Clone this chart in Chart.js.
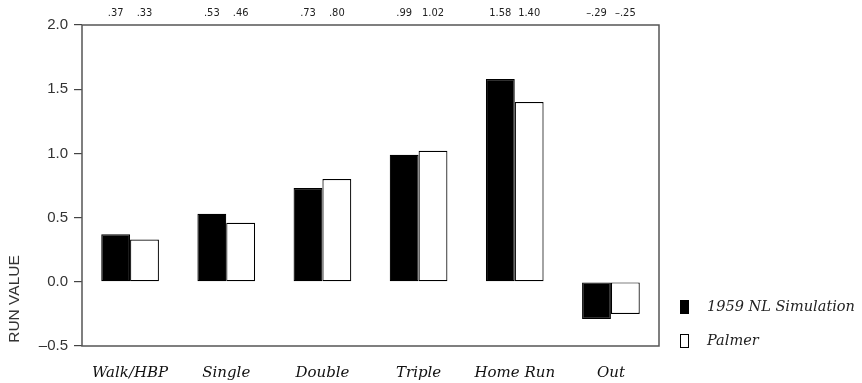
<!DOCTYPE html>
<html>
<head>
<meta charset="utf-8">
<script src="https://cdn.jsdelivr.net/npm/chart.js@4"></script>
<style>
  html, body { margin: 0; padding: 0; background: #fff; }
  #wrap { width: 862px; height: 383px; }
</style>
</head>
<body>
<div id="wrap"><canvas id="runChart"></canvas></div>
<script>
// Valores de corrida por evento
const categorias = ['Walk/HBP', 'Single', 'Double', 'Triple', 'Home Run', 'Out'];
const simulacao = [0.37, 0.53, 0.73, 0.99, 1.58, -0.29];
const palmer = [0.33, 0.46, 0.80, 1.02, 1.40, -0.25];
const nomesSeries = ['1959 NL Simulation', 'Palmer'];

const serifItalic = 'italic 14.5px "DejaVu Serif", "Liberation Serif", serif';
const sans = '"Liberation Sans", Arial, sans-serif';

function fmtValor(v) {
  let s = Math.abs(v).toFixed(2);
  if (s.startsWith('0')) s = s.slice(1);
  return (v < 0 ? '\u2013' : '') + s;
}

// caixa, rótulos de valor no topo, legenda e título do eixo
const extras = {
  id: 'extras',
  afterDraw(chart) {
    const { ctx, chartArea: a } = chart;
    ctx.save();
    ctx.strokeStyle = '#555';
    ctx.lineWidth = 1.5;
    ctx.strokeRect(a.left, a.top, a.right - a.left, a.bottom - a.top);

    ctx.fillStyle = '#222';
    ctx.font = '11px "Liberation Sans Narrow", "DejaVu Sans Condensed", sans-serif';
    ctx.textAlign = 'center';
    ctx.textBaseline = 'middle';
    chart.data.datasets.forEach((ds, i) => {
      chart.getDatasetMeta(i).data.forEach((bar, j) => {
        ctx.fillText(fmtValor(ds.data[j]), bar.x, 13);
      });
    });

    // legenda
    ctx.font = serifItalic;
    ctx.textAlign = 'left';
    ctx.lineWidth = 1;
    ctx.strokeStyle = '#000';
    const ly = [307, 341];
    chart.data.datasets.forEach((ds, i) => {
      ctx.fillStyle = ds.backgroundColor;
      ctx.fillRect(680, ly[i] - 7, 9, 14);
      ctx.strokeRect(680.5, ly[i] - 6.5, 8, 13);
      ctx.fillStyle = '#222';
      ctx.fillText(ds.label, 707, ly[i]);
    });

    // título do eixo Y
    ctx.translate(15, 299);
    ctx.rotate(-Math.PI / 2);
    ctx.textAlign = 'center';
    ctx.font = '15.5px ' + sans;
    ctx.fillStyle = '#333';
    ctx.fillText('RUN VALUE', 0, 0);
    ctx.restore();
  }
};

new Chart(document.getElementById('runChart'), {
  type: 'bar',
  data: {
    labels: categorias,
    datasets: [
      { label: nomesSeries[0], data: simulacao, backgroundColor: '#000', borderColor: '#000', borderWidth: 1.2, borderSkipped: false },
      { label: nomesSeries[1], data: palmer, backgroundColor: '#fff', borderColor: '#000', borderWidth: 1.2, borderSkipped: false }
    ]
  },
  options: {
    responsive: true,
    maintainAspectRatio: false,
    animation: false,
    categoryPercentage: 0.6,
    barPercentage: 1.0,
    layout: { padding: { top: 25, right: 203, left: 0, bottom: 0 } },
    plugins: {
      legend: { display: false },
      tooltip: { enabled: false }
    },
    scales: {
      x: {
        grid: { display: false, drawTicks: false },
        border: { display: false },
        ticks: { color: '#111', font: { family: '"DejaVu Serif", serif', style: 'italic', size: 15 }, padding: 18 },
        afterFit(scale) { scale.height = 37; }
      },
      y: {
        min: -0.5,
        max: 2.0,
        grid: { drawOnChartArea: false, drawTicks: true, tickLength: 8, color: '#444', lineWidth: 1.2 },
        border: { display: false },
        ticks: {
          stepSize: 0.5,
          color: '#333',
          padding: 6,
          font: { family: sans, size: 15 },
          callback: v => (v < 0 ? '\u2013' : '') + Math.abs(v).toFixed(1)
        },
        afterFit(scale) { scale.width = 82; }
      }
    }
  },
  plugins: [extras]
});
</script>
</body>
</html>
